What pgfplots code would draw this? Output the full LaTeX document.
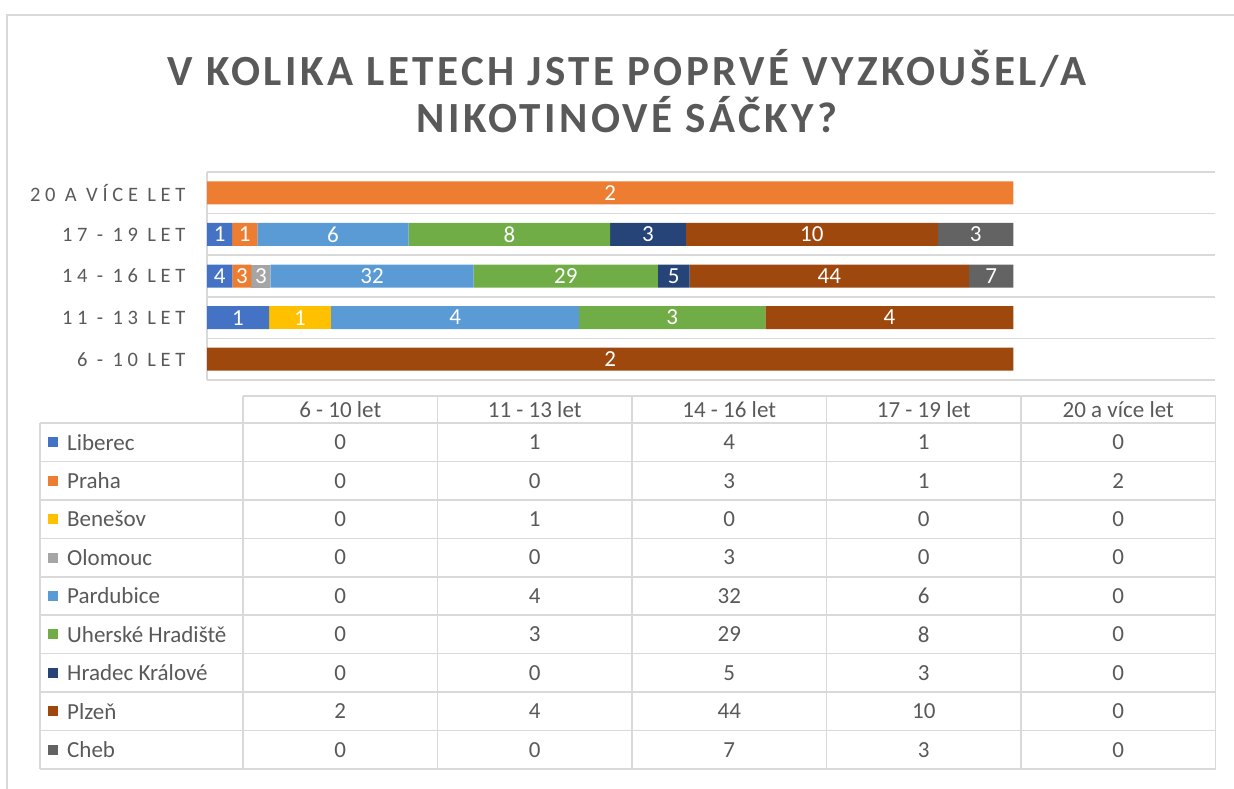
\documentclass[border=0pt]{standalone}
\usepackage{fontspec}
\setmainfont{Carlito}
\newfontfamily\titlefont[LetterSpace=8]{Carlito}
\newfontfamily\catfont[LetterSpace=23]{Carlito}
\usepackage{pgfplots}
\usepackage{pgfplotstable}
\pgfplotsset{compat=1.18}

\definecolor{txt}{HTML}{595959}
\definecolor{gridc}{HTML}{D9D9D9}
\definecolor{cLiberec}{HTML}{4472C4}
\definecolor{cPraha}{HTML}{ED7D31}
\definecolor{cBenesov}{HTML}{FFC000}
\definecolor{cOlomouc}{HTML}{A5A5A5}
\definecolor{cPardubice}{HTML}{5B9BD5}
\definecolor{cUherske}{HTML}{70AD47}
\definecolor{cHradec}{HTML}{264478}
\definecolor{cPlzen}{HTML}{9E480E}
\definecolor{cCheb}{HTML}{636363}

% rows: 0 = 6-10 let ... 4 = 20 a vice let
\pgfplotstableread{
pos Liberec Praha Benesov Olomouc Pardubice Uherske Hradec Plzen Cheb
0   0       0     0       0       0         0       0      2     0
1   1       0     1       0       4         3       0      4     0
2   4       3     0       3       32        29      5      44    7
3   1       1     0       0       6         8       3      10    3
4   0       2     0       0       0         0       0      0     0
}\agedata
\pgfplotstablecreatecol[create col/expr={\thisrow{Liberec}+\thisrow{Praha}+\thisrow{Benesov}+\thisrow{Olomouc}+\thisrow{Pardubice}+\thisrow{Uherske}+\thisrow{Hradec}+\thisrow{Plzen}+\thisrow{Cheb}}]{total}\agedata

% one stacked segment per town, scaled to 100 % of its age group
\newcommand{\agebar}[1]{%
  \addplot[fill=c#1, draw=none, point meta=explicit symbolic]
    table[y=pos, x expr={\thisrow{#1}*100/\thisrow{total}}, meta=#1]{\agedata};
}

\begin{document}
\begin{tikzpicture}
\useasboundingbox (0pt,0pt) rectangle (1234pt,-789pt);

\begin{axis}[
  at={(207pt,-380pt)}, anchor=south west, scale only axis,
  width=1008pt, height=208pt,
  xbar stacked, bar width=23pt,
  xmin=0, xmax=125, ymin=-0.5, ymax=4.5,
  xtick=\empty,
  extra x ticks={0}, extra x tick labels={},
  extra x tick style={grid=major, major grid style={gridc, line width=1.5pt}, major tick length=0pt},
  ytick={0,...,4},
  yticklabels={6 - 10 LET, 11 - 13 LET, 14 - 16 LET, 17 - 19 LET, 20 A VÍCE LET},
  minor ytick={-0.5,0.5,...,4.5},
  yminorgrids, minor grid style={gridc, line width=1.5pt},
  major tick length=0pt, minor tick length=0pt,
  axis line style={draw=none},
  yticklabel style={font=\catfont\fontsize{20.5}{20.5}\selectfont, text=txt, anchor=east, xshift=-18pt},
  nodes near coords={\ifnum\pgfplotspointmeta>0 \pgfplotspointmeta\fi},
  every node near coord/.append style={font=\fontsize{23}{23}\selectfont, text=white, anchor=center},
]
\agebar{Liberec}
\agebar{Praha}
\agebar{Benesov}
\agebar{Olomouc}
\agebar{Pardubice}
\agebar{Uherske}
\agebar{Hradec}
\agebar{Plzen}
\agebar{Cheb}
\end{axis}

\begin{scope}[x=1pt, y=-1pt]
\clip (0,0) rectangle (1234,789);
\draw[gridc, line width=1.2pt] (7,15) rectangle (1300,900);

\node[text=txt, font=\titlefont\bfseries\fontsize{43}{43}\selectfont] at (627,68) {V KOLIKA LETECH JSTE POPRVÉ VYZKOUŠEL/A};
\node[text=txt, font=\titlefont\bfseries\fontsize{43}{43}\selectfont] at (627,115) {NIKOTINOVÉ SÁČKY?};

% data table
\begin{scope}[gridc, line width=1.5pt]
\draw (243,396) -- (1215.5,396);
\foreach \k in {0,...,9} \draw (40,{423+38.44*\k}) -- (1215.5,{423+38.44*\k});
\draw (40,423) -- (40,769.4);
\foreach \c in {0,...,5} \draw ({243+194.5*\c},396) -- ({243+194.5*\c},769.4);
\end{scope}

\foreach \h [count=\c from 0] in {6 - 10 let, 11 - 13 let, 14 - 16 let, 17 - 19 let, 20 a více let}
  \node[text=txt, font=\fontsize{23}{23}\selectfont] at ({340.25+194.5*\c},409.5) {\h};

\foreach \col/\name [count=\k from 0] in {Liberec/Liberec, Praha/Praha, Benesov/Benešov, Olomouc/Olomouc,
    Pardubice/Pardubice, Uherske/Uherské Hradiště, Hradec/Hradec Králové, Plzen/Plzeň, Cheb/Cheb}{
  \fill[c\col] (47.5,{442.2+38.44*\k-5}) rectangle (57.5,{442.2+38.44*\k+5});
  \node[text=txt, anchor=west, inner sep=0pt, font=\fontsize{23}{23}\selectfont] at (67,{442.2+38.44*\k}) {\name};
  \foreach \r in {0,...,4}{
    \pgfplotstablegetelem{\r}{\col}\of\agedata
    \node[text=txt, font=\fontsize{23}{23}\selectfont] at ({340.25+194.5*\r},{442.2+38.44*\k}) {\pgfplotsretval};
  }
}
\end{scope}
\end{tikzpicture}
\end{document}
